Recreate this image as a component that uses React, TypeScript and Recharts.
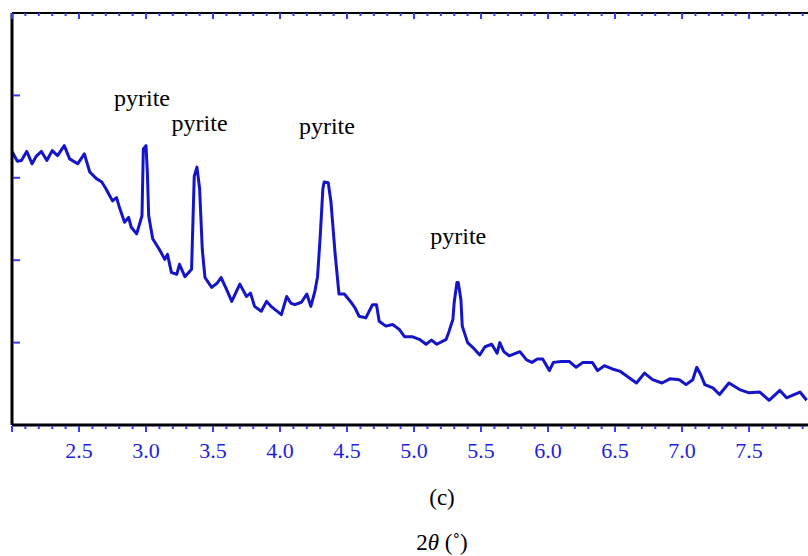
import { Line, LineChart, ReferenceDot, XAxis, YAxis } from 'recharts'

// 2θ (degrees)
const twoTheta = [
  2.0, 2.04, 2.07, 2.11, 2.15, 2.18, 2.22, 2.26, 2.3, 2.34, 2.39, 2.43, 2.49, 2.54, 2.58, 2.63, 2.67, 2.7,
  2.73, 2.75, 2.78, 2.8, 2.84, 2.87, 2.89, 2.93, 2.97, 2.98, 3.0, 3.01, 3.02, 3.05, 3.1, 3.14, 3.16, 3.19,
  3.23, 3.25, 3.29, 3.34, 3.36, 3.38, 3.4, 3.42, 3.44, 3.49, 3.53, 3.56, 3.6, 3.64, 3.7, 3.75, 3.78, 3.81,
  3.86, 3.9, 3.94, 4.01, 4.05, 4.08, 4.11, 4.16, 4.2, 4.23, 4.26, 4.28, 4.3, 4.32, 4.33, 4.36, 4.38, 4.41,
  4.44, 4.48, 4.53, 4.56, 4.59, 4.64, 4.69, 4.72, 4.74, 4.79, 4.84, 4.89, 4.93, 4.99, 5.04, 5.09, 5.13,
  5.17, 5.24, 5.26, 5.29, 5.3, 5.32, 5.33, 5.35, 5.36, 5.4, 5.44, 5.49, 5.53, 5.58, 5.62, 5.64, 5.67, 5.71,
  5.79, 5.84, 5.88, 5.92, 5.96, 6.01, 6.04, 6.1, 6.16, 6.21, 6.26, 6.33, 6.37, 6.42, 6.48, 6.54, 6.6, 6.66,
  6.72, 6.78, 6.85, 6.91, 6.98, 7.03, 7.08, 7.11, 7.14, 7.17, 7.23, 7.28, 7.35, 7.43, 7.5, 7.58, 7.65, 7.73,
  7.78, 7.88, 7.93,
]

// intensity (a.u.)
const intensity = [
  3.32, 3.2, 3.21, 3.32, 3.17, 3.26, 3.32, 3.21, 3.33, 3.27, 3.39, 3.23, 3.17, 3.29, 3.07, 2.99, 2.95, 2.87,
  2.78, 2.72, 2.76, 2.65, 2.46, 2.52, 2.4, 2.32, 2.54, 3.35, 3.39, 3.07, 2.54, 2.26, 2.13, 2.01, 2.07, 1.85,
  1.83, 1.95, 1.8, 1.89, 3.02, 3.13, 2.87, 2.13, 1.79, 1.67, 1.72, 1.79, 1.65, 1.5, 1.71, 1.56, 1.6, 1.44,
  1.38, 1.5, 1.43, 1.34, 1.56, 1.48, 1.46, 1.49, 1.59, 1.44, 1.62, 1.8, 2.29, 2.87, 2.95, 2.94, 2.71, 2.1,
  1.59, 1.59, 1.49, 1.42, 1.32, 1.3, 1.46, 1.46, 1.26, 1.2, 1.22, 1.16, 1.07, 1.07, 1.04, 0.98, 1.03, 0.98,
  1.04, 1.13, 1.28, 1.49, 1.73, 1.73, 1.52, 1.2, 1.0, 0.94, 0.85, 0.95, 0.98, 0.87, 1.0, 0.89, 0.84, 0.89,
  0.79, 0.76, 0.8, 0.8, 0.66, 0.76, 0.77, 0.77, 0.7, 0.76, 0.76, 0.66, 0.72, 0.68, 0.65, 0.58, 0.51, 0.63,
  0.55, 0.51, 0.56, 0.55, 0.49, 0.55, 0.7, 0.61, 0.49, 0.45, 0.37, 0.51, 0.43, 0.39, 0.4, 0.3, 0.42, 0.33,
  0.4, 0.3,
]

const tickLabels = ['2.5', '3.0', '3.5', '4.0', '4.5', '5.0', '5.5', '6.0', '6.5', '7.0', '7.5']
const xTicks = Array.from({ length: 60 }, (_, i) => Math.round((2.0 + i * 0.1) * 10) / 10)
const yTicks = [1, 2, 3, 4]

const peakLabels = [
  { x: 2.97, y: 3.98, text: 'pyrite' },
  { x: 3.4, y: 3.67, text: 'pyrite' },
  { x: 4.35, y: 3.63, text: 'pyrite' },
  { x: 5.33, y: 2.3, text: 'pyrite' },
]

const data = twoTheta.map((x, i) => ({ x, y: intensity[i] }))

const serif = '"Liberation Serif", "Times New Roman", serif'
const tickBlue = '#3a3aff'
const X_DOMAIN = [2.0, 7.94]

const isMajor = (v: number) => Math.abs(v * 2 - Math.round(v * 2)) < 1e-6

const BottomTick = (props: any) => {
  const { x, y, payload } = props
  const v = payload.value as number
  const major = isMajor(v)
  const label = tickLabels.find((t) => Number(t) === v)
  return (
    <g>
      <line x1={x} x2={x} y1={y + 1} y2={y + (major ? 7 : 4)} stroke={tickBlue} strokeWidth={2} />
      {label && (
        <text x={x} y={y + 25} dy="0.355em" textAnchor="middle" fill="#1e1ee0" fontSize={22} fontFamily={serif}>
          {label}
        </text>
      )}
    </g>
  )
}

const TopTick = (props: any) => {
  const { x, y, payload } = props
  const major = isMajor(payload.value as number)
  return <line x1={x} x2={x} y1={y} y2={y + (major ? 6 : 3)} stroke={tickBlue} strokeWidth={2} />
}

const LeftTick = (props: any) => {
  const { x, y } = props
  return <line x1={x + 1} x2={x + 8} y1={y} y2={y} stroke={tickBlue} strokeWidth={2} />
}

const App = () => {
  return (
    <div style={{ position: 'absolute', left: 0, top: 0, width: 808, height: 556, background: '#fff' }}>
      <LineChart width={808} height={556} data={data} margin={{ top: 13, right: 0, left: 12, bottom: 91 }}>
        <XAxis
          xAxisId="main"
          type="number"
          dataKey="x"
          domain={X_DOMAIN}
          ticks={xTicks}
          interval={0}
          height={40}
          tickSize={0}
          tickMargin={0}
          tick={<BottomTick />}
          tickLine={false}
          axisLine={{ stroke: '#000', strokeWidth: 3 }}
          allowDataOverflow
        />
        <XAxis
          xAxisId="top"
          orientation="top"
          mirror
          type="number"
          dataKey="x"
          domain={X_DOMAIN}
          ticks={xTicks}
          interval={0}
          height={1}
          tickSize={0}
          tickMargin={0}
          tick={<TopTick />}
          tickLine={false}
          axisLine={{ stroke: '#000', strokeWidth: 2 }}
          allowDataOverflow
        />
        <YAxis
          yAxisId="left"
          type="number"
          domain={[0, 5]}
          ticks={yTicks}
          interval={0}
          width={1}
          mirror
          tickSize={0}
          tickMargin={0}
          tick={<LeftTick />}
          tickLine={false}
          axisLine={{ stroke: '#000', strokeWidth: 3 }}
        />
        <Line
          xAxisId="main"
          yAxisId="left"
          type="linear"
          dataKey="y"
          stroke="#1414c8"
          strokeWidth={3}
          strokeLinejoin="round"
          dot={false}
          isAnimationActive={false}
        />
        {peakLabels.map((p, i) => (
          <ReferenceDot
            key={i}
            xAxisId="main"
            yAxisId="left"
            x={p.x}
            y={p.y}
            r={0}
            fill="none"
            stroke="none"
            label={{ value: p.text, position: 'center', fill: '#000', fontSize: 24, fontFamily: serif }}
          />
        ))}
      </LineChart>
      <div
        style={{
          position: 'absolute',
          left: 342,
          width: 200,
          top: 484,
          textAlign: 'center',
          fontFamily: serif,
          fontSize: 23,
          lineHeight: '28px',
          color: '#000',
        }}
      >
        (c)
      </div>
      <div
        style={{
          position: 'absolute',
          left: 342,
          width: 200,
          top: 529,
          textAlign: 'center',
          fontFamily: serif,
          fontSize: 23,
          lineHeight: '28px',
          color: '#000',
        }}
      >
        2<i>θ</i> (˚)
      </div>
    </div>
  )
}

export default App
